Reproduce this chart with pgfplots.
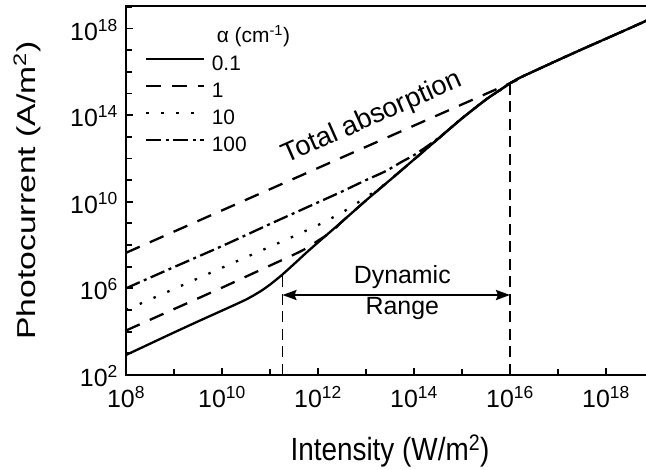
\documentclass[border=0pt]{standalone}
\usepackage{pgfplots}
\pgfplotsset{compat=1.18}
\usepackage{fontspec}
\setmainfont{Liberation Sans}
\usetikzlibrary{arrows.meta}
\begin{document}
\begin{tikzpicture}
\clip (-126bp,-95.1bp) rectangle (520bp,374.9bp);
\begin{axis}[
  scale only axis, width=528bp, height=368.9bp,
  xmode=log, ymode=log,
  xmin=1e8, xmax=1e19, ymin=1e2, ymax=1.096e19,
  axis line style={line width=2.2bp},
  tick pos=left, tick align=inside,
  major tick length=7bp, minor tick length=6bp,
  tick style={line width=1.8bp, black},
  xtick={1e8,1e10,1e12,1e14,1e16,1e18},
  xticklabels={10\textsuperscript{8},10\textsuperscript{10},10\textsuperscript{12},10\textsuperscript{14},10\textsuperscript{16},10\textsuperscript{18}},
  minor xtick={1e9,1e11,1e13,1e15,1e17,1e19},
  ytick={1e2,1e6,1e10,1e14,1e18},
  yticklabels={10\textsuperscript{2},10\textsuperscript{6},10\textsuperscript{10},10\textsuperscript{14},10\textsuperscript{18}},
  minor ytick={1e3,1e4,1e5,1e7,1e8,1e9,1e11,1e12,1e13,1e15,1e16,1e17,1e19},
  tick label style={font=\fontsize{25}{25}\selectfont},
  xticklabel style={anchor=base, inner sep=0pt, yshift=-33bp},
  yticklabel style={anchor=base east, inner sep=0pt, xshift=-8bp, yshift=-11.5bp},
  every axis x label/.style={at={(axis description cs:0.5,0)}, anchor=base, yshift=-86bp, font=\fontsize{28}{28}\selectfont},
  every axis y label/.style={at={(axis description cs:0,0.5)}, xshift=-91bp, rotate=90, anchor=base, font=\fontsize{26}{26}\selectfont},
  xlabel={\scalebox{1}[1.15]{Intensity (W/m\textsuperscript{2})}},
  ylabel={\scalebox{1.3}[1]{Photocurrent (A/m\textsuperscript{2})}},
  legend style={at={(axis description cs:0.036,0.9404)}, anchor=north west, draw=none, fill=none,
    inner sep=0pt, outer sep=0pt, row sep=8.2bp, column sep=6.5bp,
    font=\fontsize{21}{21}\selectfont,
    nodes={inner sep=0pt, text height=15bp, text depth=4bp}},
  legend cell align=left,
  legend image code/.code={\draw[#1] (0bp,6bp) -- (58bp,6bp);},
]
\addlegendimage{empty legend}
\addlegendentry{\hspace{5bp}α (cm\textsuperscript{-1})}

% alpha = 0.1
\addplot[black, line width=2.3bp, smooth, tension=0.4] coordinates {
(1e8,8.318e2) (3.162e8,2.754e3) (1e9,9.12e3) (3.162e9,2.951e4) (1e10,9.333e4)
(3.162e10,3.02e5) (6.31e10,7.244e5) (1e11,1.479e6) (1.778e11,4.169e6) (3.162e11,1.318e7)
(5.623e11,4.266e7) (1e12,1.318e8) (3.162e12,1.202e9) (1e13,1.148e10) (3.162e13,1e11)
(1e14,8.913e11) (3.162e14,7.943e12) (1e15,7.079e13) (3.162e15,5.248e14) (6.31e15,1.479e15)
(1e16,2.951e15) (1.585e16,5.248e15) (3.162e16,1.072e16) (1e17,3.467e16) (3.162e17,1.096e17)
(1e18,3.388e17) (3.162e18,1.047e18) (1e19,3.311e18)};
\addlegendentry{0.1}

% alpha = 1
\addplot[black, line width=2.3bp, dash pattern=on 15bp off 11bp, smooth, tension=0.4] coordinates {
(1e8,1.122e4) (1e9,1.096e5) (1e10,1.072e6) (3.162e10,3.467e6) (1e11,1.122e7)
(3.162e11,3.631e7) (5.623e11,6.918e7) (1e12,1.585e8) (1.995e12,4.365e8) (3.162e12,1.202e9)
(1e13,1.148e10) (3.162e13,1e11) (1e14,8.913e11) (3.162e14,7.943e12) (1e15,7.079e13)
(3.162e15,5.248e14) (6.31e15,1.479e15) (1e16,2.951e15) (1.585e16,5.248e15) (3.162e16,1.072e16)
(1e17,3.467e16) (3.162e17,1.096e17) (1e18,3.388e17) (3.162e18,1.047e18) (1e19,3.311e18)};
\addlegendentry{1}

% alpha = 10
\addplot[black, line width=2.3bp, dash pattern=on 2.5bp off 12.5bp, smooth, tension=0.4] coordinates {
(1e8,1e5) (1e9,9.333e5) (1e10,8.913e6) (1e11,8.318e7) (3.162e11,2.57e8)
(1e12,8.318e8) (3.162e12,3.162e9) (5.623e12,7.079e9) (1e13,1.585e10) (2.344e13,5.888e10)
(5.012e13,2.399e11) (1e14,8.913e11) (3.162e14,7.943e12) (1e15,7.079e13) (3.162e15,5.248e14)
(6.31e15,1.479e15) (1e16,2.951e15) (1.585e16,5.248e15) (3.162e16,1.072e16) (1e17,3.467e16)
(3.162e17,1.096e17) (1e18,3.388e17) (3.162e18,1.047e18) (1e19,3.311e18)};
\addlegendentry{10}

% alpha = 100
\addplot[black, line width=2.3bp, dash pattern=on 15bp off 4.5bp on 3bp off 4.5bp, smooth, tension=0.4] coordinates {
(1e8,1e6) (1e9,9.55e6) (1e10,8.913e7) (1e11,9.333e8) (4.467e11,4.169e9)
(1e12,9.333e9) (3.162e12,2.951e10) (1e13,1e11) (2.512e13,2.512e11) (5.623e13,7.079e11)
(1e14,1.413e12) (1.995e14,3.981e12) (3.981e14,1.259e13) (1e15,7.079e13) (3.162e15,5.248e14)
(6.31e15,1.479e15) (1e16,2.951e15) (1.585e16,5.248e15) (3.162e16,1.072e16) (1e17,3.467e16)
(3.162e17,1.096e17) (1e18,3.388e17) (3.162e18,1.047e18) (1e19,3.311e18)};
\addlegendentry{100}

% total absorption
\addplot[forget plot, black, line width=2.3bp, dash pattern=on 15bp off 11bp] coordinates {
(1e8,4.365e7) (1.413e16,4.169e15)};

% dynamic range markers
\addplot[forget plot, black, line width=1.6bp, dash pattern=on 11bp off 6.5bp] coordinates {
(1.82e11,1e2) (1.82e11,4.365e6)};
\addplot[forget plot, black, line width=1.6bp, dash pattern=on 11bp off 6.5bp] coordinates {
(1e16,1e2) (1e16,2.951e15)};
\addplot[forget plot, black, line width=2.2bp,
  {Stealth[length=14bp,width=10bp,inset=2bp]}-{Stealth[length=14bp,width=10bp,inset=2bp]}]
  coordinates {(1.82e11,4.898e5) (1e16,4.898e5)};

\node[anchor=base, font=\fontsize{25}{25}\selectfont] at (axis cs:5.7e13,1.70e6) {Dynamic};
\node[anchor=base, font=\fontsize{25}{25}\selectfont] at (axis cs:5.7e13,5.85e4) {Range};
\node[anchor=base, rotate=23.8, font=\fontsize{27.5}{27.5}\selectfont] at (axis cs:1.55e13,3.72e13) {Total absorption};
\end{axis}
\end{tikzpicture}
\end{document}
